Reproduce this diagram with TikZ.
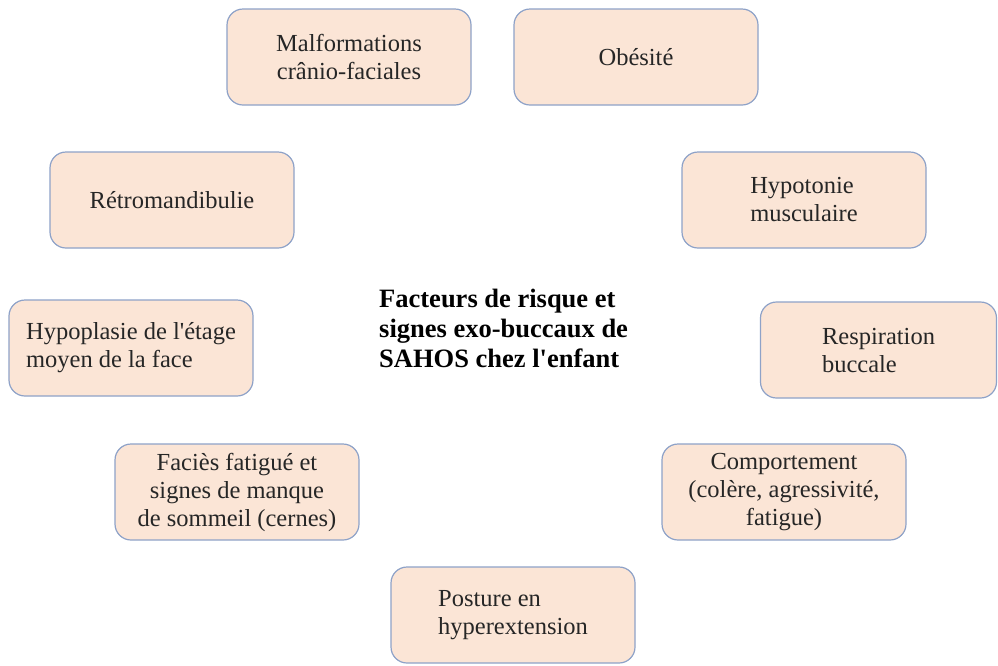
\documentclass[tikz,border=0pt]{standalone}
\usepackage{fontspec}
\setmainfont{Liberation Serif}[Ligatures=TeXOff]
\definecolor{boxfill}{HTML}{FBE5D6}
\definecolor{boxline}{HTML}{8EA2C8}
\begin{document}
\begin{tikzpicture}[x=1pt,y=-1pt,
  box/.style={draw=boxline, fill=boxfill, line width=1.2pt, rounded corners=16pt,
    minimum width=244pt, minimum height=96pt, inner sep=0pt,
    font=\fontsize{24.5}{28}\selectfont, text=black!85},
  title/.style={font=\fontsize{26.5}{30}\selectfont\bfseries, align=left, inner sep=0pt}]
\useasboundingbox (0,0) rectangle (998,665);
\fill[white] (0,0) rectangle (998,665);
\node[box, align=center] (malf) at (349,57) {Malformations\\crânio-faciales};
\node[box, align=center] (obes) at (636,57) {Obésité};
\node[box, align=center] (retro) at (172,200) {Rétromandibulie};
\node[box, align=left] (hypot) at (804,200) {Hypotonie\\musculaire};
\node[box, align=left] (hypop) at (131,348) {Hypoplasie de l'étage\\moyen de la face};
\node[box, align=left, minimum width=236pt] (resp) at (878.5,350) {Respiration\\buccale};
\node[box, align=center] (facies) at (237,492) {Faciès fatigué et\\signes de manque\\de sommeil (cernes)};
\node[box, align=center] (comp) at (784,492) {Comportement\\(colère, agressivité,\\fatigue)};
\node[box, align=left] (post) at (513,615) {Posture en\\hyperextension};
\node[title, anchor=west] (center) at (379,328) {Facteurs de risque et\\signes exo-buccaux de\\SAHOS chez l'enfant};
\end{tikzpicture}
\end{document}
